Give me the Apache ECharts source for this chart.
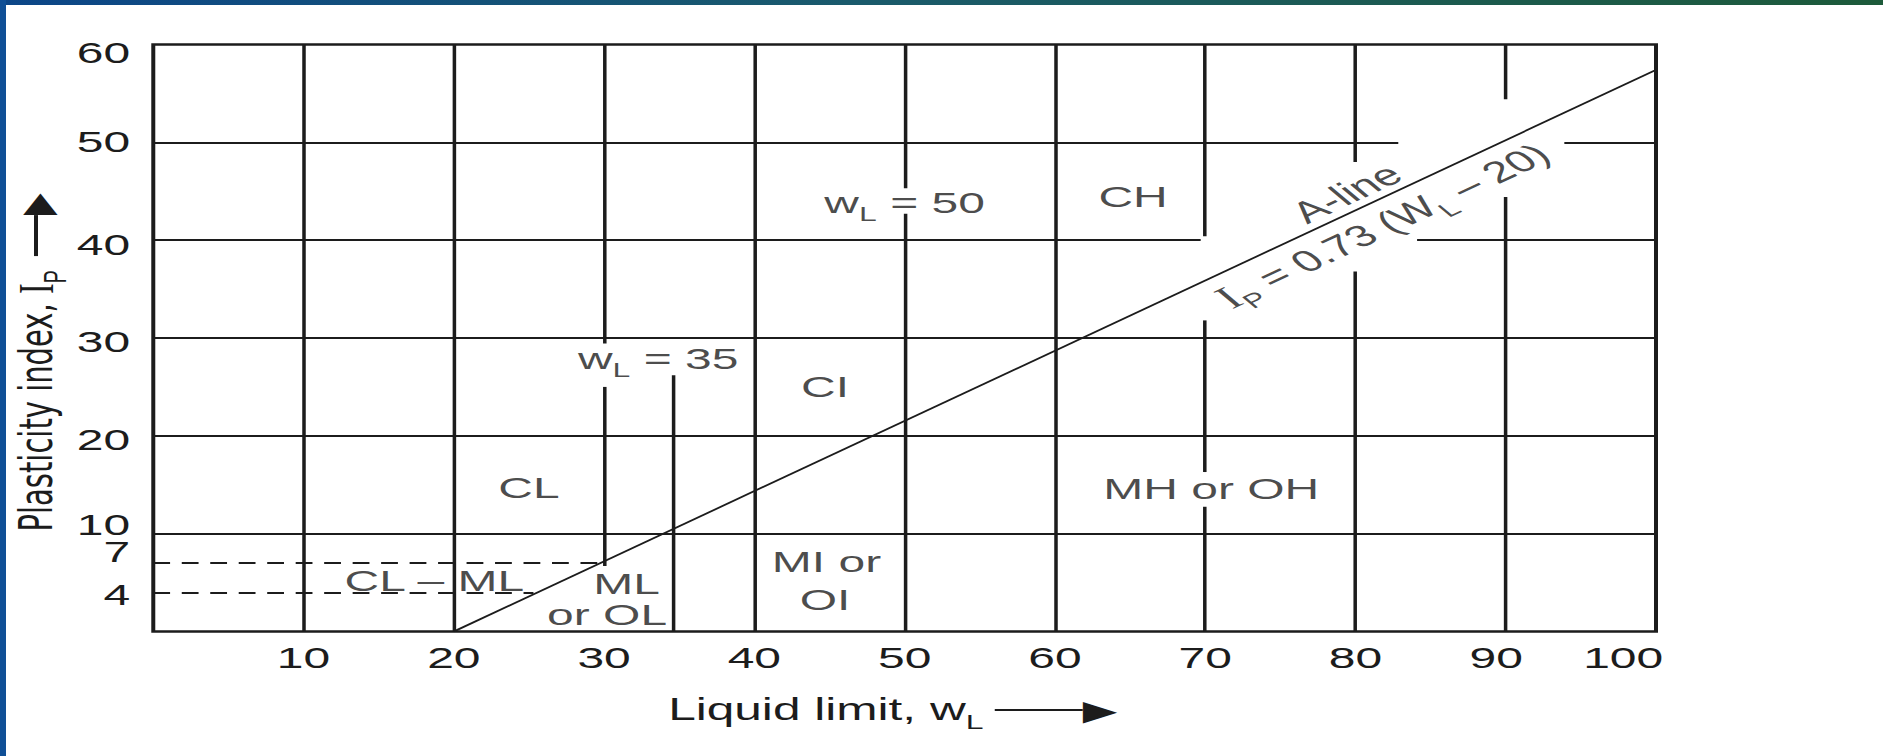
<!DOCTYPE html>
<html>
<head>
<meta charset="utf-8">
<title>Plasticity chart</title>
<script src="https://cdn.jsdelivr.net/npm/echarts@6/dist/echarts.min.js"></script>
<style>
  html, body { margin: 0; padding: 0; background: #fff; overflow: hidden; }
  /* the source figure is a horizontally stretched scan: draw narrow, then stretch */
  #plasticityChart { width: 1177px; height: 756px; transform: scaleX(1.6); transform-origin: 0 0; }
</style>
</head>
<body>
<div id="plasticityChart"></div>
<script>
const xTicks = [10, 20, 30, 40, 50, 60, 70, 80, 90, 100]
const yTicks = [4, 7, 10, 20, 30, 40, 50, 60]

// [x, yFrom, yTo] - vertical rulings, broken where the figure leaves room for text
const verticalRules = [
  [10, 0, 60], [20, 0, 60],
  [30, 29.45, 60], [30, 6.7, 25.0],
  [34.6, 0, 26.2],
  [40, 0, 60],
  [50, 45.3, 60], [50, 0, 42.7],
  [60, 0, 60],
  [70, 40.4, 60], [70, 16.3, 31.8], [70, 0, 12.75],
  [80, 48.0, 60], [80, 0, 36.8],
  [90, 54.4, 60], [90, 0, 44.4],
]
// [y, xFrom, xTo]
const horizontalRules = [
  [10, 0, 100], [20, 0, 100], [30, 0, 100],
  [40, 0, 69.7], [40, 84.1, 100],
  [50, 0, 82.85], [50, 93.9, 100],
]
const dashedRules = [[7, 0, 29.8], [4, 0, 25.3]]
const aLine = [[20, 0], [100, 57.4]]

const zoneNames = ['w{s|L} = 50', 'CH', 'w{s|L} = 35', 'CI', 'CL', 'CL – ML', 'ML', 'or OL', 'MI or', 'OI', 'MH or OH']
const zoneAnchors = [[50, 43.9], [65.2, 44.5], [33.6, 27.9], [44.7, 25.0], [25.0, 14.75], [18.7, 5.2], [31.5, 4.9], [30.2, 1.7], [44.8, 7.15], [44.7, 3.3], [70.4, 14.6]]
const aLineNotes = ['A-line', '{i|I}{s|P} = 0.73 (W{s|L} – 20)']
const aLineNoteAnchors = [[79.4, 44.8], [81.8, 41.5]]

const SANS = '"Liberation Sans", Arial, Helvetica, sans-serif'
const SERIF = '"Liberation Serif", "Times New Roman", serif'
const INK = '#1c1c1c'

const subStyle = { fontFamily: SANS, fontSize: 20, lineHeight: 20, verticalAlign: 'bottom', color: INK }
const serifStyle = { fontFamily: SERIF, fontSize: 32, lineHeight: 44, color: INK }
const headStyle = { fontFamily: '"DejaVu Sans"', fontSize: 28, lineHeight: 28, color: INK }
const textRich = { s: subStyle, i: serifStyle }

// shift of each y tick label, as in the figure (10 and 7 are crowded)
const yLabelTone = { 60: 'y60', 50: 'y50', 10: 'y10', 7: 'y7', 4: 'y4' }
const yLabel = (pad) => ({ fontFamily: SANS, fontSize: 30, color: INK, padding: pad })
const xLabel = (pad) => ({ fontFamily: SANS, fontSize: 30, color: INK, padding: pad })

const chart = echarts.init(document.getElementById('plasticityChart'), null, { renderer: 'svg' })

const option = {
  animation: false,
  backgroundColor: '#fff',
  grid: {
    left: 95.8, right: 142, top: 44.5, bottom: 124.5,
    show: true, borderColor: INK, borderWidth: 2.5,
    outerBoundsMode: 'none',
  },
  xAxis: {
    type: 'value', min: 0, max: 100, interval: 10,
    axisLine: { show: false }, axisTick: { show: false }, splitLine: { show: false },
    axisLabel: {
      customValues: xTicks,
      margin: 11,
      showMinLabel: true, showMaxLabel: true,
      formatter: (v) => (v === 100 ? `{x100|${v}}` : v === 90 ? `{x90|${v}}` : `{x|${v}}`),
      rich: { x: xLabel(0), x90: xLabel([0, 12, 0, 0]), x100: xLabel([0, 41, 0, 0]) },
    },
    name: '{t|Liquid limit, w}{s|L}{g|}{bar|}{head|▶}',
    nameLocation: 'middle',
    nameGap: 56.5,
    nameMoveOverlap: false,
    nameTextStyle: {
      padding: [0, 15, 0, 0],
      rich: {
        t: { fontFamily: SANS, fontSize: 31, lineHeight: 44, color: INK },
        s: subStyle,
        g: { width: 7 },
        bar: { width: 55, height: 2, backgroundColor: INK },
        head: headStyle,
      },
    },
  },
  yAxis: {
    type: 'value', min: 0, max: 60, interval: 10,
    axisLine: { show: false }, axisTick: { show: false }, splitLine: { show: false },
    axisLabel: {
      customValues: yTicks,
      margin: 14.5,
      showMinLabel: true, showMaxLabel: true,
      formatter: (v) => `{${yLabelTone[v] || 'y'}|${v}}`,
      rich: {
        y: yLabel([8, 0, 0, 0]),
        y60: yLabel([16, 0, 0, 0]),
        y50: yLabel([0, 0, 2, 0]),
        y10: yLabel([0, 0, 19, 0]),
        y7: yLabel([0, 0, 24, 0]),
        y4: yLabel([5, 0, 0, 0]),
      },
    },
    name: '{t|Plasticity index, }{i|I}{s|P}{g|}{bar|}{head|▶}',
    nameLocation: 'middle',
    nameGap: 51.3,
    nameMoveOverlap: false,
    nameTextStyle: {
      padding: [0, 49, 0, 0],
      rich: {
        t: { fontFamily: '"DejaVu Sans"', fontSize: 29, lineHeight: 44, color: INK },
        i: serifStyle,
        s: subStyle,
        g: { width: 14 },
        bar: { width: 41, height: 2.5, backgroundColor: INK },
        head: headStyle,
      },
    },
  },
  graphic: [
    {
      type: 'rect', left: 0, top: 0, z: 100, silent: true,
      shape: { width: 1177, height: 5 },
      style: {
        fill: new echarts.graphic.LinearGradient(0, 0, 1, 0, [
          { offset: 0, color: '#0c4688' },
          { offset: 0.45, color: '#1a5a6c' },
          { offset: 1, color: '#1d5a3a' },
        ]),
      },
    },
    {
      type: 'rect', left: 0, top: 0, z: 100, silent: true,
      shape: { width: 3.75, height: 756 },
      style: { fill: '#0f4f96' },
    },
  ],
  series: [
    {
      name: 'rules',
      type: 'lines',
      coordinateSystem: 'cartesian2d',
      silent: true,
      lineStyle: { color: INK, width: 2.2, opacity: 1, curveness: 0 },
      data: [
        ...verticalRules.map(([x, y0, y1]) => ({ coords: [[x, y0], [x, y1]] })),
        ...horizontalRules.map(([y, x0, x1]) => ({ coords: [[x0, y], [x1, y]] })),
      ],
    },
    {
      name: 'limits',
      type: 'lines',
      coordinateSystem: 'cartesian2d',
      silent: true,
      lineStyle: { color: INK, width: 2, opacity: 1, curveness: 0, type: [10.5, 7.3] },
      data: dashedRules.map(([y, x0, x1]) => ({ coords: [[x0, y], [x1, y]] })),
    },
    {
      name: 'A-line',
      type: 'line',
      silent: true,
      symbol: 'none',
      data: aLine,
      lineStyle: { color: INK, width: 1.6 },
    },
    {
      id: 'zones',
      type: 'scatter',
      silent: true,
      symbolSize: 0,
      data: zoneAnchors.map((p, i) => ({ name: zoneNames[i], value: p })),
      label: {
        show: true,
        position: 'inside',
        formatter: (p) => p.name,
        fontFamily: SANS, fontSize: 30, lineHeight: 44, color: INK,
        rich: textRich,
      },
    },
    {
      id: 'aLineNotes',
      type: 'scatter',
      silent: true,
      symbolSize: 0,
      data: aLineNoteAnchors.map((p, i) => ({ name: aLineNotes[i], value: p })),
      label: {
        show: true,
        position: 'inside',
        formatter: (p) => p.name,
        fontFamily: SANS, fontSize: 30, lineHeight: 44, color: INK,
        rich: textRich,
      },
    },
  ],
}

chart.setOption(option)

// the notes follow the A-line's slope on screen
const a = chart.convertToPixel({ gridIndex: 0 }, aLine[0])
const b = chart.convertToPixel({ gridIndex: 0 }, aLine[1])
const tilt = Math.atan2(a[1] - b[1], b[0] - a[0]) * 180 / Math.PI
chart.setOption({ series: [{ id: 'aLineNotes', label: { rotate: tilt } }] })
</script>
</body>
</html>
